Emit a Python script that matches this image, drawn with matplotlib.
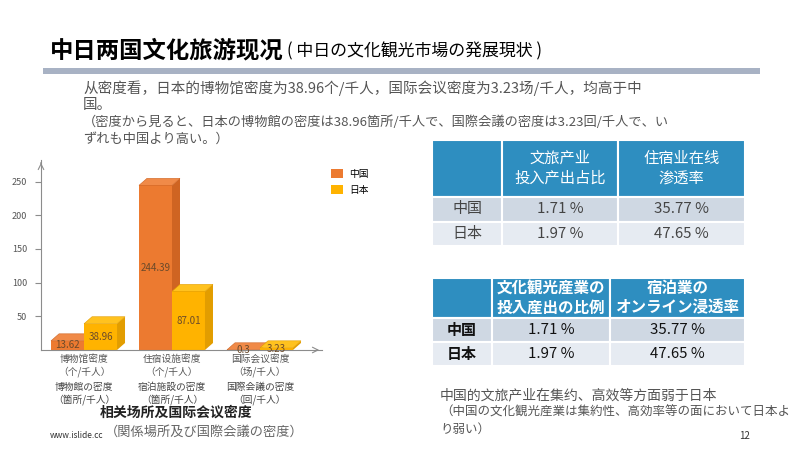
import numpy as np
import matplotlib.pyplot as plt
from matplotlib.patches import Polygon, Rectangle

plt.rcParams['font.family'] = ['Noto Sans CJK SC', 'DejaVu Sans']
JP = ['Noto Sans CJK JP', 'DejaVu Sans']

# chart data
categories_cn = ['博物馆密度\n（个/千人）', '住宿设施密度\n（个/千人）', '国际会议密度\n（场/千人）']
categories_jp = ['博物館の密度\n（箇所/千人）', '宿泊施設の密度\n（箇所/千人）', '国際会議の密度\n（回/千人）']
series = ['中国', '日本']
china = [13.62, 244.39, 0.3]
japan = [38.96, 87.01, 3.23]
yticks = [50, 100, 150, 200, 250]

# table data
rows = ['中国', '日本']
header_cn = ['文旅产业\n投入产出占比', '住宿业在线\n渗透率']
header_jp = ['文化観光産業の\n投入産出の比例', '宿泊業の\nオンライン浸透率']
io_ratio = ['1.71 %', '1.97 %']
online_rate = ['35.77 %', '47.65 %']

fig = plt.figure(figsize=(8, 4.5), dpi=100)
bg = fig.add_axes([0, 0, 1, 1])
bg.set_xlim(0, 800)
bg.set_ylim(450, 0)
bg.axis('off')

# header
bg.text(50, 50, '中日两国文化旅游现况', fontsize=16.8, fontweight='bold', va='center')
bg.text(287, 51, '( 中日の文化観光市場の発展現状 )', fontsize=12.2, va='center', family=JP)
bg.add_patch(Rectangle((43, 68), 717, 6, color='#A8B2C4', lw=0))

body = '#555555'
bg.text(83, 88, '从密度看，日本的博物馆密度为38.96个/千人，国际会议密度为3.23场/千人，均高于中',
        fontsize=10.5, color=body, va='center')
bg.text(83, 105, '国。', fontsize=10.5, color=body, va='center')
bg.text(83, 122, '（密度から見ると、日本の博物館の密度は38.96箇所/千人で、国際会議の密度は3.23回/千人で、い',
        fontsize=9.5, color=body, va='center', family=JP)
bg.text(83, 139, 'ずれも中国より高い。）', fontsize=9.5, color=body, va='center', family=JP)


# tables
def draw_table(x0, y0, widths, head_h, row_h, header, txt_color, bold, fam, fs_head, fs_body):
    xs = np.concatenate([[x0], x0 + np.cumsum(widths)])
    row_cols = ['#CFD8E3', '#E6EBF2']
    for j in range(3):
        bg.add_patch(Rectangle((xs[j], y0), widths[j], head_h, facecolor='#2E8EC0',
                               edgecolor='white', lw=1.5))
        for i in range(2):
            bg.add_patch(Rectangle((xs[j], y0 + head_h + i * row_h), widths[j], row_h,
                                   facecolor=row_cols[i], edgecolor='white', lw=1.5))
    for j, h in enumerate(header):
        bg.text((xs[j + 1] + xs[j + 2]) / 2, y0 + head_h / 2, h, color='white', ha='center',
                va='center', fontsize=fs_head, fontweight='bold' if bold else 'normal',
                family=fam, linespacing=1.25)
    for i in range(2):
        yc = y0 + head_h + (i + 0.5) * row_h
        bg.text((xs[0] + xs[1]) / 2, yc, rows[i], ha='center', va='center', fontsize=fs_body,
                color=txt_color, fontweight='bold' if bold else 'normal', family=fam)
        bg.text((xs[1] + xs[2]) / 2, yc, io_ratio[i], ha='center', va='center',
                fontsize=fs_body, color=txt_color)
        bg.text((xs[2] + xs[3]) / 2, yc, online_rate[i], ha='center', va='center',
                fontsize=fs_body, color=txt_color)


draw_table(432, 140, [70, 116, 127], 57, 24.5, header_cn, '#444444', False,
           ['Noto Sans CJK SC', 'DejaVu Sans'], 11, 10.8)
draw_table(432, 278, [60, 118, 135], 40, 24, header_jp, '#111111', True, JP, 11.2, 10.8)

bg.text(440, 395, '中国的文旅产业在集约、高效等方面弱于日本', fontsize=10, color=body, va='center')
bg.text(440, 412, '（中国の文化観光産業は集約性、高効率等の面において日本よ', fontsize=9,
        color=body, va='center', family=JP)
bg.text(440, 429, 'り弱い）', fontsize=9, color=body, va='center', family=JP)
bg.text(745, 436, '12', fontsize=7, color='#333333', ha='center', va='center')

# chart
ax = fig.add_axes([41 / 800, 1 - 350 / 450, (322 - 41) / 800, (350 - 160) / 450])
ax.patch.set_alpha(0)
x = np.arange(len(china))
w = 0.375
ax.set_xlim(-0.489, 2.705)
ax.set_ylim(0, 282)
dx = 8 / 88
dy = 7 / 33.7 * 50

styles = [('#EC7A30', '#F08A48', '#CF6422'), ('#FFB300', '#FFC21F', '#E29D00')]
for vals, off, (front, top, side), name in zip([china, japan], [-w / 2, w / 2], styles, series):
    bars = ax.bar(x + off, vals, w, color=front, label=name, zorder=2)
    for b, v in zip(bars, vals):
        x0, x1 = b.get_x(), b.get_x() + b.get_width()
        ax.add_patch(Polygon([(x1, 0), (x1 + dx, dy), (x1 + dx, v + dy), (x1, v)],
                             closed=True, facecolor=side, edgecolor='none', zorder=2, clip_on=False))
        ax.add_patch(Polygon([(x0, v), (x0 + dx, v + dy), (x1 + dx, v + dy), (x1, v)],
                             closed=True, facecolor=top, edgecolor=side, lw=0.4, zorder=2,
                             clip_on=False))
        ax.text((x0 + x1) / 2, v / 2, str(v), ha='center', va='center', fontsize=7,
                color='#6b4a2a', zorder=3)

for s in ['top', 'right']:
    ax.spines[s].set_visible(False)
for s in ['left', 'bottom']:
    ax.spines[s].set_color('#8c8c8c')
    ax.spines[s].set_linewidth(0.8)
ax.annotate('', xy=(0, 1.0), xytext=(0, 0.97), xycoords='axes fraction',
            arrowprops=dict(arrowstyle='->', color='#8c8c8c', lw=0.8))
ax.annotate('', xy=(1.0, 0), xytext=(0.97, 0), xycoords='axes fraction',
            arrowprops=dict(arrowstyle='->', color='#8c8c8c', lw=0.8))
ax.set_yticks(yticks)
ax.tick_params(axis='y', length=4, color='#8c8c8c', labelsize=6.5, labelcolor='#555555', pad=6)
ax.set_xticks([])

for xi, c1, c2 in zip(x, categories_cn, categories_jp):
    ax.text(xi, -6, c1, ha='center', va='top', fontsize=7, color='#555555', linespacing=1.25)
    ax.text(xi, -47, c2, ha='center', va='top', fontsize=7, color='#444444', family=JP,
            linespacing=1.25)

ax.legend(loc='upper left', bbox_to_anchor=(1.0, 1.0), frameon=False, fontsize=7,
          handlelength=1.3, handleheight=1.1, labelspacing=0.6, handletextpad=0.6)

bg.text(176, 413, '相关场所及国际会议密度', fontsize=10, fontweight='bold', ha='center',
        va='center', color='#222222')
bg.text(204, 432, '（関係場所及び国際会議の密度）', fontsize=9.5, ha='center', va='center',
        color='#666666', family=JP)
bg.text(50, 436, 'www.islide.cc', fontsize=6, va='center', color='#333333')

fig.savefig('out.png', dpi=100)
